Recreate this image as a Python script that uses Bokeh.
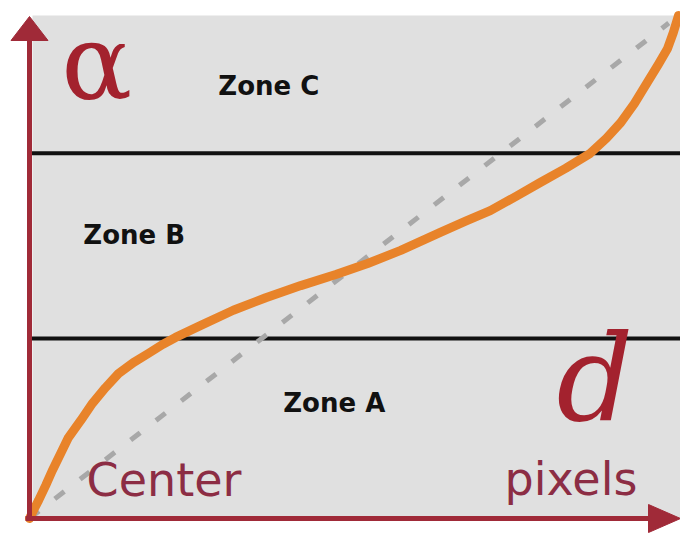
from bokeh.plotting import figure
from bokeh.models import Range1d
from bokeh.core.properties import value
from bokeh.embed import file_html
from bokeh.resources import INLINE

# ---- data (normalised: d on x, alpha on y) ----
curve_x = [0.0, 0.006, 0.014, 0.025, 0.035, 0.048, 0.060, 0.079, 0.097, 0.117,
           0.137, 0.160, 0.183, 0.205, 0.225, 0.264, 0.314, 0.364, 0.418, 0.472,
           0.521, 0.572, 0.633, 0.672, 0.710, 0.749, 0.787, 0.826, 0.864, 0.889,
           0.911, 0.932, 0.952, 0.969, 0.983, 0.992, 1.0]
curve_y = [0.0, 0.016, 0.036, 0.066, 0.095, 0.129, 0.161, 0.195, 0.229, 0.260,
           0.288, 0.310, 0.328, 0.346, 0.360, 0.384, 0.414, 0.439, 0.463, 0.485,
           0.507, 0.533, 0.569, 0.591, 0.612, 0.640, 0.668, 0.696, 0.726, 0.756,
           0.787, 0.825, 0.867, 0.903, 0.934, 0.966, 1.0]
linear_x = [0.0, 0.985]
linear_y = [0.0, 0.985]
zone_limits = [0.358, 0.726]
zone_labels = ["Zone A", "Zone B", "Zone C"]
zone_label_x = [0.391, 0.083, 0.291]
zone_label_y = [0.229, 0.563, 0.859]

# ---- layout ----
W, H = 680, 533
XS, YS = 649.0, 503.0          # px per data unit
x0 = -29 / XS
x1 = (W - 29) / XS
y0 = -(H - 518) / YS
y1 = 1 + 15 / YS

p = figure(width=W, height=H, x_range=Range1d(x0, x1), y_range=Range1d(y0, y1),
           output_backend="svg", toolbar_location=None, min_border=0,
           background_fill_color="white", border_fill_color="white")
p.axis.visible = False
p.grid.visible = False
p.outline_line_color = None

AX = "#a02a38"

# grey panel
p.quad(left=[3 / XS], right=[x1], bottom=[0], top=[1], fill_color="#e0e0e0", line_color=None)

# zone boundaries
p.segment(x0=[0] * len(zone_limits), x1=[x1] * len(zone_limits), y0=zone_limits, y1=zone_limits,
          line_color="#111111", line_width=4)

# linear reference
p.line(linear_x, linear_y, line_color="#a8a8a8", line_width=5, line_dash="12 20")

# S-curve
p.line(curve_x, curve_y, line_color="#e8832a", line_width=9, line_cap="round", line_join="round")

# axes with arrowheads
p.segment(x0=[0], y0=[0], x1=[0], y1=[1 - 23 / YS], line_color=AX, line_width=5)
p.segment(x0=[-4 / XS], y0=[0], x1=[x1 - 30 / XS], y1=[0], line_color=AX, line_width=5)
p.patch([-18.5 / XS, 18.5 / XS, 0], [1 - 25 / YS, 1 - 25 / YS, 1 - 1 / YS], fill_color=AX, line_color=AX)
p.patch([x1 - 32 / XS, x1 - 32 / XS, x1], [-14 / YS, 14 / YS, 0], fill_color=AX, line_color=AX)

# symbols
p.text(x=[0.049], y=[0.905], text=["α"], text_font=value("DejaVu Serif"),
       text_font_size="105px", text_color="#a3222e", text_baseline="alphabetic", text_align="left")
p.text(x=[0.812], y=[0.278], text=["d"], text_font=value("DejaVu Serif"), text_font_style="italic",
       text_font_size="120px", text_color="#a3222e", text_baseline="alphabetic", text_align="left")

# axis captions
p.text(x=[0.088], y=[0.077], text=["Center"], text_font=value("DejaVu Sans"),
       text_font_size="46px", text_color="#8c2d44", text_baseline="alphabetic", text_align="left")
p.text(x=[0.732], y=[0.079], text=["pixels"], text_font=value("DejaVu Sans"),
       text_font_size="46px", text_color="#8c2d44", text_baseline="alphabetic", text_align="left")

# zone labels
p.text(x=zone_label_x, y=zone_label_y, text=zone_labels, text_font=value("DejaVu Sans"),
       text_font_style="bold", text_font_size="26px", text_color="#111111",
       text_baseline="alphabetic", text_align="left")

open("out.html", "w").write(file_html(p, INLINE))
